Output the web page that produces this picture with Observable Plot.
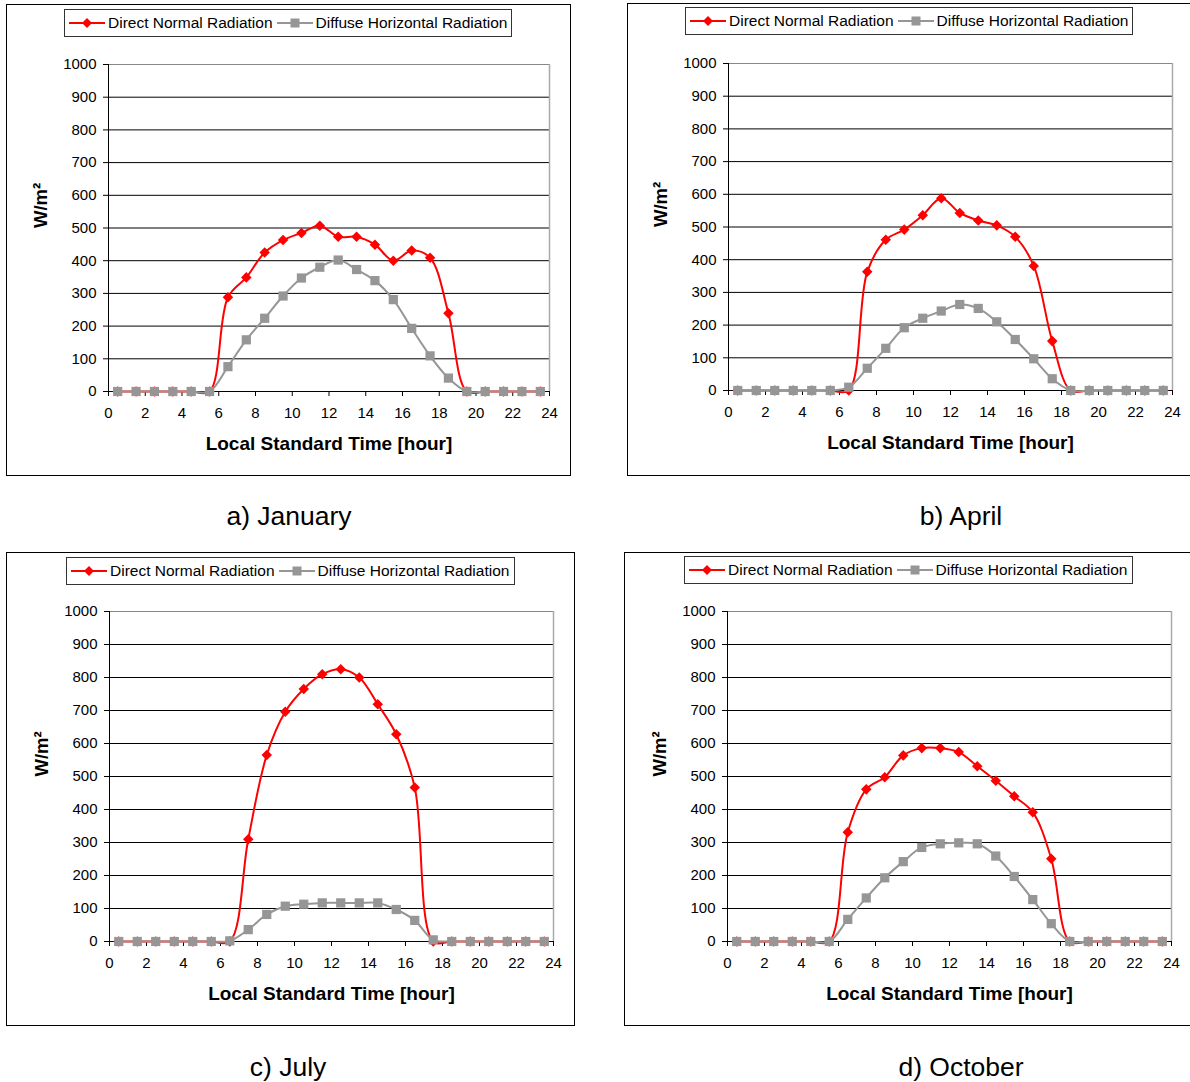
<!DOCTYPE html>
<html>
<head>
<meta charset="utf-8">
<script src="https://cdn.jsdelivr.net/npm/d3@7"></script>
<script src="https://cdn.jsdelivr.net/npm/@observablehq/plot@0.6"></script>
<style>
  body { margin: 0; background: #fff; font-family: "Liberation Sans", Arial, sans-serif; }
  #page { position: relative; width: 1190px; height: 1082px; overflow: hidden; background: #fff; }
  .frame { position: absolute; border: 1px solid #000; box-sizing: border-box; background: #fff; }
  .chart { position: absolute; }
  .legend { position: absolute; height: 28px; box-sizing: border-box; border: 1px solid #333;
            background: #fff; display: flex; align-items: center; font-size: 15.5px; color: #000;
            padding-left: 4px; white-space: nowrap; }
  .legend svg { display: block; flex: none; }
  .legend span { margin-left: 3px; margin-right: 4px; }
  .caption { position: absolute; font-size: 26.5px; color: #000; white-space: nowrap;
             transform: translate(-50%, -50%); }
</style>
</head>
<body>
<div id="page"></div>
<script>
// Hourly mid-points (local standard time)
const hours = [0.5, 1.5, 2.5, 3.5, 4.5, 5.5, 6.5, 7.5, 8.5, 9.5, 10.5, 11.5,
               12.5, 13.5, 14.5, 15.5, 16.5, 17.5, 18.5, 19.5, 20.5, 21.5, 22.5, 23.5];

// Direct normal and diffuse horizontal radiation, W/m²
const janDirect  = [0, 0, 0, 0, 0, 0, 288, 349, 425, 463, 485, 507, 473, 473, 449, 400, 431, 409, 239, 0, 0, 0, 0, 0];
const janDiffuse = [0, 0, 0, 0, 0, 0, 76, 158, 224, 292, 347, 380, 402, 373, 339, 281, 193, 109, 41, 0, 0, 0, 0, 0];
const aprDirect  = [0, 0, 0, 0, 0, 0, 0, 363, 461, 492, 536, 588, 543, 520, 505, 470, 381, 151, 0, 0, 0, 0, 0, 0];
const aprDiffuse = [0, 0, 0, 0, 0, 0, 10, 68, 129, 192, 221, 243, 263, 251, 210, 156, 97, 36, 0, 0, 0, 0, 0, 0];
const julDirect  = [0, 0, 0, 0, 0, 0, 0, 310, 565, 696, 765, 810, 825, 800, 719, 628, 467, 0, 0, 0, 0, 0, 0, 0];
const julDiffuse = [0, 0, 0, 0, 0, 0, 2, 36, 82, 107, 113, 117, 117, 117, 117, 97, 64, 5, 0, 0, 0, 0, 0, 0];
const octDirect  = [0, 0, 0, 0, 0, 0, 331, 461, 498, 564, 586, 586, 574, 531, 487, 440, 392, 251, 0, 0, 0, 0, 0, 0];
const octDiffuse = [0, 0, 0, 0, 0, 0, 67, 132, 193, 242, 285, 296, 299, 296, 259, 197, 127, 54, 0, 0, 0, 0, 0, 0];

const seriesNames = ["Direct Normal Radiation", "Diffuse Horizontal Radiation"];
const xTicks = [0, 2, 4, 6, 8, 10, 12, 14, 16, 18, 20, 22, 24];
const yTicks = [0, 100, 200, 300, 400, 500, 600, 700, 800, 900, 1000];
const xTitle = "Local Standard Time [hour]";
const yTitle = "W/m²";

const RED = "#ff0000";
const GREY = "#969696";

// Panel layout: outer frame box and plot margins
const panels = [
  { caption: "a) January", direct: janDirect, diffuse: janDiffuse,
    box: [6, 4, 565, 472], svgW: 565, m: [60, 22, 85, 102], legend: [64, 9, 448], cap: [289, 516] },
  { caption: "b) April", direct: aprDirect, diffuse: aprDiffuse,
    box: [627, 3, 580, 473], svgW: 562, m: [60, 17, 86, 101], legend: [685, 7, 448], cap: [961, 516] },
  { caption: "c) July", direct: julDirect, diffuse: julDiffuse,
    box: [6, 552, 569, 474], svgW: 569, m: [59, 22, 85, 103], legend: [66, 557, 449], cap: [288, 1067] },
  { caption: "d) October", direct: octDirect, diffuse: octDiffuse,
    box: [624, 552, 580, 474], svgW: 566, m: [59, 19, 85, 103], legend: [684, 556, 449], cap: [961, 1067] }
];

const page = document.getElementById("page");

function legendSwatch(color, kind) {
  const ns = "http://www.w3.org/2000/svg";
  const svg = document.createElementNS(ns, "svg");
  svg.setAttribute("width", 36);
  svg.setAttribute("height", 12);
  const line = document.createElementNS(ns, "line");
  line.setAttribute("x1", 0); line.setAttribute("x2", 36);
  line.setAttribute("y1", 6); line.setAttribute("y2", 6);
  line.setAttribute("stroke", color); line.setAttribute("stroke-width", 2);
  svg.appendChild(line);
  const mark = document.createElementNS(ns, "rect");
  const s = kind === "diamond" ? 7 : 9;
  mark.setAttribute("x", 18 - s / 2); mark.setAttribute("y", 6 - s / 2);
  mark.setAttribute("width", s); mark.setAttribute("height", s);
  mark.setAttribute("fill", color);
  if (kind === "diamond") mark.setAttribute("transform", "rotate(45 18 6)");
  svg.appendChild(mark);
  return svg;
}

for (const p of panels) {
  const [bx, by, bw, bh] = p.box;
  const frame = document.createElement("div");
  frame.className = "frame";
  Object.assign(frame.style, { left: bx + "px", top: by + "px", width: bw + "px", height: bh + "px" });
  page.appendChild(frame);

  const direct = hours.map((h, i) => ({ hour: h, value: p.direct[i] }));
  const diffuse = hours.map((h, i) => ({ hour: h, value: p.diffuse[i] }));
  const [mt, mr, mb, ml] = p.m;

  const chart = Plot.plot({
    width: p.svgW,
    height: bh,
    marginTop: mt, marginRight: mr, marginBottom: mb, marginLeft: ml,
    style: { fontFamily: "Liberation Sans, Arial, sans-serif", fontSize: "15px", color: "#000", background: "transparent", overflow: "visible" },
    x: { domain: [0, 24] },
    y: { domain: [0, 1000] },
    marks: [
      Plot.ruleY(yTicks.filter(d => d > 0 && d < 1000), { stroke: "#000", strokeWidth: 1 }),
      Plot.ruleY([1000], { stroke: "#888", strokeWidth: 1 }),
      Plot.ruleX([24], { stroke: "#aaa", strokeWidth: 1.5 }),
      Plot.axisX({ ticks: xTicks, tickSize: 5, tickPadding: 11, tickFormat: d => String(d), label: null, stroke: "#000" }),
      Plot.axisY({ ticks: yTicks, tickSize: 5, tickPadding: 7, tickFormat: d => String(d), label: null, stroke: "#000" }),
      Plot.ruleX([0], { stroke: "#000", strokeWidth: 1 }),
      Plot.ruleY([0], { stroke: "#000", strokeWidth: 1 }),
      Plot.line(direct, { x: "hour", y: "value", curve: "catmull-rom", stroke: RED, strokeWidth: 2 }),
      Plot.dot(direct, { x: "hour", y: "value", symbol: "square", rotate: 45, r: 4.2, fill: RED, stroke: "none" }),
      Plot.line(diffuse, { x: "hour", y: "value", curve: "catmull-rom", stroke: GREY, strokeWidth: 2 }),
      Plot.dot(diffuse, { x: "hour", y: "value", symbol: "square", r: 5.2, fill: GREY, stroke: "none" }),
      Plot.text([xTitle], { frameAnchor: "bottom", dy: 58, fontSize: 19, fontWeight: "bold", fill: "#000" }),
      Plot.text([yTitle], { frameAnchor: "left", dx: -67, rotate: -90, fontSize: 18.5, fontWeight: "bold", fill: "#000" })
    ]
  });
  chart.classList.add("chart");
  chart.style.left = bx + "px";
  chart.style.top = by + "px";
  page.appendChild(chart);

  const [lx, ly, lw] = p.legend;
  const legend = document.createElement("div");
  legend.className = "legend";
  Object.assign(legend.style, { left: lx + "px", top: ly + "px", width: lw + "px" });
  legend.appendChild(legendSwatch(RED, "diamond"));
  const t1 = document.createElement("span"); t1.textContent = seriesNames[0];
  legend.appendChild(t1);
  legend.appendChild(legendSwatch(GREY, "square"));
  const t2 = document.createElement("span"); t2.textContent = seriesNames[1];
  legend.appendChild(t2);
  page.appendChild(legend);

  const cap = document.createElement("div");
  cap.className = "caption";
  cap.textContent = p.caption;
  cap.style.left = p.cap[0] + "px";
  cap.style.top = p.cap[1] + "px";
  page.appendChild(cap);
}
</script>
</body>
</html>
